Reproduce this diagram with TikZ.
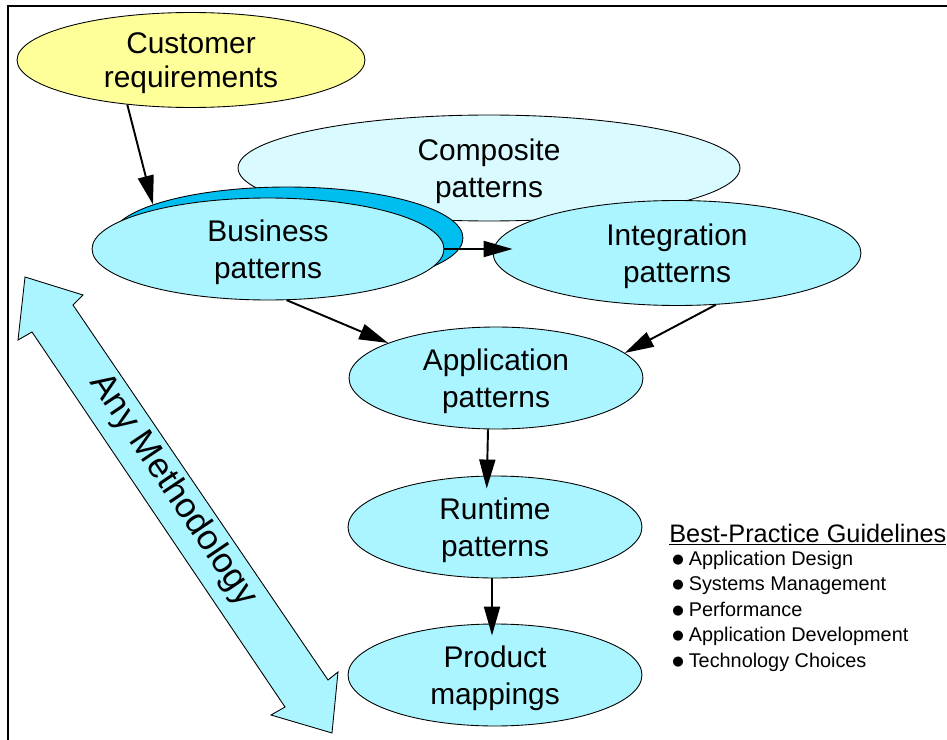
\documentclass[tikz,border=0pt]{standalone}
\usepackage{fontspec}
\setmainfont{Liberation Sans}
\newfontfamily\dotfont{DejaVu Sans}
\usetikzlibrary{arrows.meta,shapes.geometric}
\definecolor{patcyan}{RGB}{170,245,255}
\definecolor{patpale}{RGB}{217,250,255}
\definecolor{patdeep}{RGB}{0,190,240}
\definecolor{custyellow}{RGB}{255,255,153}

\begin{document}
\begin{tikzpicture}[x=0.02cm,y=-0.02cm,
        >={Triangle[length=0.58cm,width=0.32cm]},
        pat/.style={ellipse,draw,line width=0.5pt,fill=patcyan,inner sep=0pt,align=center,text depth=0pt,
            minimum width=5.88cm,minimum height=2.04cm,font=\fontsize{17}{21}\selectfont},
        flow/.style={line width=1.1pt}]
            \useasboundingbox (0,0) rectangle (947,740);
            \clip (0,0) rectangle (947,740);
            \draw[line width=1.1pt] (8,6) rectangle (990,790);
            \node[pat,fill=custyellow,minimum width=6.96cm,minimum height=1.9cm,font=\fontsize{17}{19}\selectfont] at (191,60) (cust) {Customer\\requirements};
            \node[pat,fill=patpale,minimum width=10.04cm,minimum height=2.12cm] at (489,168) (comp) {Composite\\patterns};
            \node[pat,fill=patdeep,minimum width=7.04cm] at (287,238) (busshade) {};
            \node[pat,minimum width=7.04cm] at (268,249) (bus) {Business\\patterns};
            \node[pat,minimum width=7.36cm,minimum height=2.1cm] at (677,253) (int) {Integration\\patterns};
            \node[pat] at (496,378) (app) {Application\\patterns};
            \node[pat] at (495,527) (run) {Runtime\\patterns};
            \node[pat] at (495,675) (prod) {Product\\mappings};
            \draw[flow,->] (cust.-145) to (busshade.166);
            \draw[flow,->,shorten >=-0.4cm] (bus.east) to (bus.east -| int.west);
            \draw[flow,->] (bus.-70) to (app.162);
            \draw[flow,->] (int.-53) to (app.11);
            \draw[flow,->,shorten >=-0.26cm] ([xshift=-0.16cm]app.south) to ([xshift=-0.16cm]run.north);
            \draw[flow,->,shorten >=-0.24cm] ([xshift=-0.06cm]run.south) to ([xshift=-0.06cm]prod.north);
            \draw[line width=0.5pt,fill=patcyan] (25,277) -- (83,295) -- (73,305) -- (328,680) -- (338,672) -- (332,733)
                -- (271,715) -- (285,707) -- (32,332) -- (18,340) -- cycle;
            \node[rotate=-56,font=\fontsize{20}{24}\selectfont] at (173,490) (meth) {Any Methodology};
            \node[anchor=base west,inner sep=0pt,font=\fontsize{14.4}{17}\selectfont] at (669,542) (guide) {\underline{Best-Practice Guidelines}};
            \foreach \txt [count=\i] in {Application Design,Systems Management,Performance,Application Development,Technology Choices}
                \node[anchor=base west,inner sep=0pt,font=\fontsize{11.3}{14}\selectfont] at (672,539.5+25.5*\i) (tip\i) {\raisebox{1.1pt}{\dotfont\fontsize{7.5}{8}\selectfont ●}\hspace{2.8pt}\txt};
        \end{tikzpicture}
\end{document}
